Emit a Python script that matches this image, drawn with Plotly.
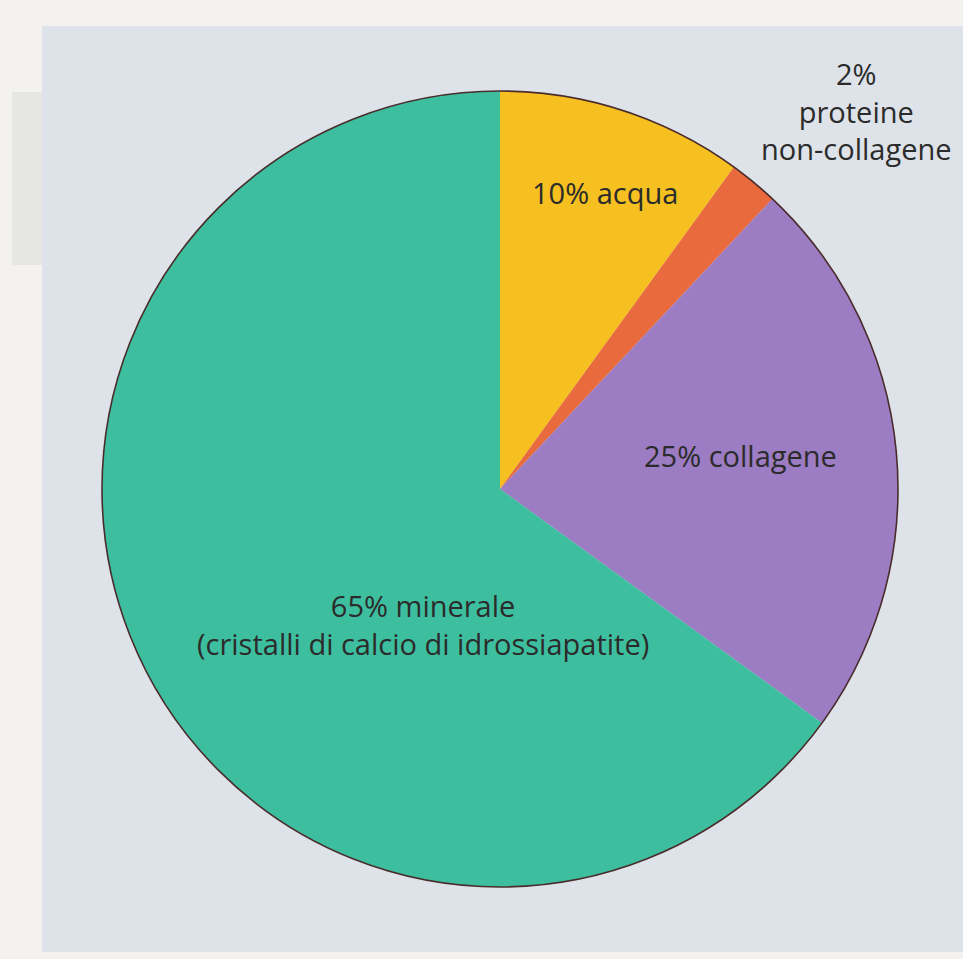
import plotly.graph_objects as go

# Data
labels = ["acqua", "proteine non-collagene", "collagene", "minerale"]
label_pct = [10, 2, 25, 65]             # percentages printed on the chart
slice_share = [10, 2, 23, 65]           # shares as drawn in the picture
label_text = [
    f"{label_pct[0]}% acqua",
    f"{label_pct[1]}%<br>proteine<br>non-collagene",
    f"{label_pct[2]}% collagene",
    f"{label_pct[3]}% minerale<br>(cristalli di calcio di idrossiapatite)",
]
colors = ["#f5c020", "#e96a3c", "#9c7cc2", "#3dbf9f"]

W, H = 963, 959
cx, cy, r = 500, 489, 398  # pixel centre/radius of pie

dx0, dx1 = (cx - r) / W, (cx + r) / W
dy0, dy1 = (H - cy - r) / H, (H - cy + r) / H

fig = go.Figure()
fig.add_trace(go.Pie(
    labels=labels,
    values=slice_share,
    sort=False,
    direction="clockwise",
    rotation=0,
    marker=dict(colors=colors, line=dict(width=0)),
    textinfo="none",
    hoverinfo="label",
    showlegend=False,
    domain=dict(x=[dx0, dx1], y=[dy0, dy1]),
))

shapes = [
    dict(type="rect", xref="paper", yref="paper", x0=12 / W, x1=42 / W,
         y0=1 - 265 / H, y1=1 - 92 / H,
         fillcolor="#e6e6e4", line=dict(width=0), layer="below"),
    # blue-grey panel
    dict(type="rect", xref="paper", yref="paper", x0=42 / W, x1=1,
         y0=1 - 952 / H, y1=1 - 26 / H,
         fillcolor="#dde3e8", line=dict(width=0), layer="below"),
    # outer pie outline
    dict(type="circle", xref="paper", yref="paper", x0=dx0, x1=dx1, y0=dy0, y1=dy1,
         line=dict(color="#4a2c2c", width=1.6), layer="above"),
]

font = dict(family="Open Sans, Noto Sans, sans-serif", size=29, color="#2b2b2b")
# centre of each label block (pixels)
ann_pos = [(605, 193), (856, 111), (740, 455), (423, 624)]
annotations = []
for t, (px, py) in zip(label_text, ann_pos):
    annotations.append(dict(
        x=px / W, y=1 - py / H, xref="paper", yref="paper",
        text=t, showarrow=False, font=font, align="center",
        xanchor="center", yanchor="middle",
    ))

fig.update_layout(
    width=W, height=H,
    margin=dict(l=0, r=0, t=0, b=0),
    paper_bgcolor="#f4f2ee",
    shapes=shapes,
    annotations=annotations,
)

fig.write_html("out.html",
               config={"displayModeBar": False},
               post_script="document.body.style.margin='0';document.body.style.overflow='hidden';")
